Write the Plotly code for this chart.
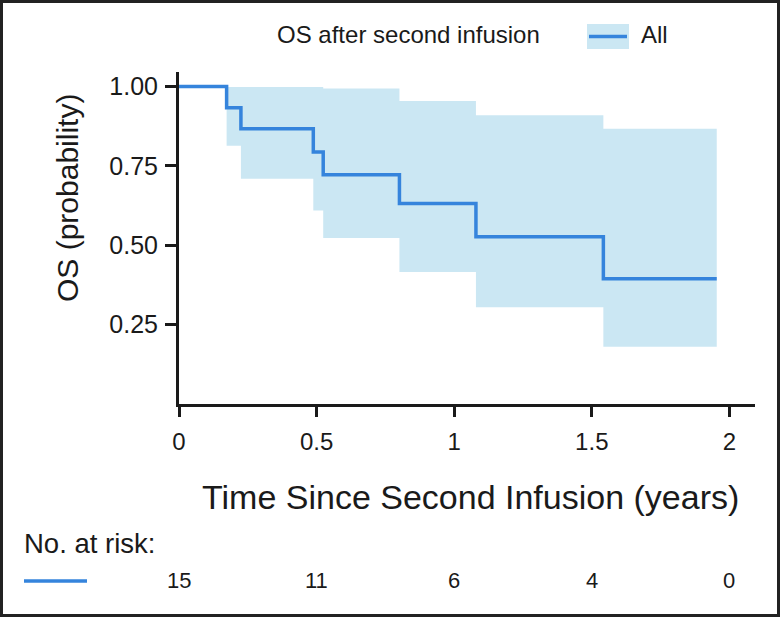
import plotly.graph_objects as go

# ---- data ----
times = [0, 0.173, 0.225, 0.488, 0.524, 0.801, 1.079, 1.542, 1.954]
survival = [1.0, 0.933, 0.867, 0.794, 0.722, 0.632, 0.527, 0.395, 0.395]
ci_upper = [1.0, 0.999, 0.999, 0.999, 0.994, 0.955, 0.910, 0.867, 0.867]
ci_lower = [1.0, 0.814, 0.710, 0.610, 0.523, 0.416, 0.305, 0.180, 0.180]

x_ticks = [0, 0.5, 1, 1.5, 2]
x_tick_labels = ["0", "0.5", "1", "1.5", "2"]
y_ticks = [0.25, 0.5, 0.75, 1.0]
y_tick_labels = ["0.25", "0.50", "0.75", "1.00"]

risk_times = [0, 0.5, 1, 1.5, 2]
at_risk = [15, 11, 6, 4, 0]

LINE = "#3584dc"
FILL = "#cbe7f3"
FONT = "Liberation Sans, Arial, sans-serif"
INK = "#1a1a1a"

# plot area geometry (pixels)
W, H = 780, 617
ML, MR, MT, MB = 179, 25, 72, 213
PW, PH = W - ML - MR, H - MT - MB


def px(x):
    return (x - ML) / PW


def py(y):
    return (H - MB - y) / PH


fig = go.Figure()
fig.add_trace(go.Scatter(x=times, y=ci_lower, mode="lines", line=dict(width=0, shape="hv"),
                         showlegend=False, hoverinfo="skip"))
fig.add_trace(go.Scatter(x=times, y=ci_upper, mode="lines", line=dict(width=0, shape="hv"),
                         fill="tonexty", fillcolor=FILL, showlegend=False, hoverinfo="skip"))
fig.add_trace(go.Scatter(x=times, y=survival, mode="lines",
                         line=dict(color=LINE, width=3.5, shape="hv"), showlegend=False))

fig.update_layout(
    width=W, height=H,
    margin=dict(l=ML, r=MR, t=MT, b=MB),
    paper_bgcolor="white", plot_bgcolor="white",
    font=dict(family=FONT, color=INK),
    showlegend=False,
)
fig.update_xaxes(range=[0, 2.093], tickvals=x_ticks, ticktext=x_tick_labels,
                 showgrid=False, zeroline=False, showline=True, linecolor=INK, linewidth=3,
                 ticks="outside", ticklen=10, tickwidth=2.5, tickcolor=INK,
                 tickfont=dict(size=24, family=FONT, color=INK), ticklabelstandoff=4)
fig.update_yaxes(range=[0, 1.046], tickvals=y_ticks, ticktext=y_tick_labels,
                 showgrid=False, zeroline=False, showline=True, linecolor=INK, linewidth=3,
                 ticks="outside", ticklen=11, tickwidth=2.5, tickcolor=INK,
                 tickfont=dict(size=25, family=FONT, color=INK), ticklabelstandoff=2)

ann = []
# axis titles
ann.append(dict(text="Time Since Second Infusion (years)", xref="paper", yref="paper",
                x=px(470), y=py(497), xanchor="center", yanchor="middle", showarrow=False,
                font=dict(size=34, family=FONT, color=INK)))
ann.append(dict(text="OS (probability)", xref="paper", yref="paper", textangle=-90,
                x=px(67), y=py(198), xanchor="center", yanchor="middle", showarrow=False,
                font=dict(size=30, family=FONT, color=INK)))
# legend
ann.append(dict(text="OS after second infusion", xref="paper", yref="paper",
                x=px(275), y=py(35), xanchor="left", yanchor="middle", showarrow=False,
                font=dict(size=24, family=FONT, color=INK)))
ann.append(dict(text="All", xref="paper", yref="paper",
                x=px(639), y=py(35), xanchor="left", yanchor="middle", showarrow=False,
                font=dict(size=24, family=FONT, color=INK)))
# risk table
ann.append(dict(text="No. at risk:", xref="paper", yref="paper",
                x=px(22), y=py(543), xanchor="left", yanchor="middle", showarrow=False,
                font=dict(size=27.5, family=FONT, color=INK)))
for t, n in zip(risk_times, at_risk):
    ann.append(dict(text=str(n), xref="x", yref="paper", x=t, y=py(580),
                    xanchor="center", yanchor="middle", showarrow=False,
                    font=dict(size=22, family=FONT, color=INK)))
fig.update_layout(annotations=ann)

shapes = []
# legend swatch
shapes.append(dict(type="rect", xref="paper", yref="paper", x0=px(587), x1=px(629),
                   y0=py(49), y1=py(24), fillcolor=FILL, line=dict(width=0), layer="above"))
shapes.append(dict(type="line", xref="paper", yref="paper", x0=px(589), x1=px(627),
                   y0=py(36.5), y1=py(36.5), line=dict(color=LINE, width=3.5), layer="above"))
# risk table line sample
shapes.append(dict(type="line", xref="paper", yref="paper", x0=px(24), x1=px(87),
                   y0=py(581), y1=py(581), line=dict(color=LINE, width=3.5), layer="above"))
# outer frame
shapes.append(dict(type="rect", xref="paper", yref="paper", x0=px(0), x1=px(W),
                   y0=py(H), y1=py(0), line=dict(color="#222222", width=6),
                   fillcolor="rgba(0,0,0,0)", layer="above"))
fig.update_layout(shapes=shapes)

fig.write_html(
    "out.html",
    config={"displayModeBar": False},
    post_script="document.body.style.margin='0';document.body.style.overflow='hidden';",
)
